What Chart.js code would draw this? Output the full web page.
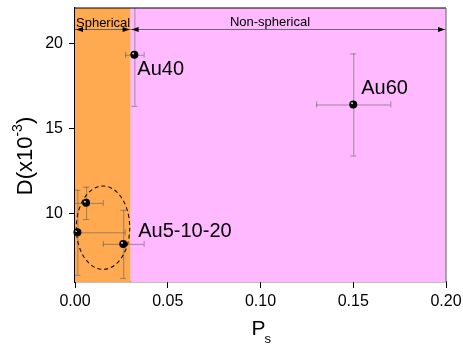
<!DOCTYPE html>
<html>
<head>
<meta charset="utf-8">
<script src="https://cdn.jsdelivr.net/npm/chart.js@4"></script>
<style>
  html, body { margin: 0; padding: 0; background: #fff; }
  #wrap { width: 463px; height: 345px; }
</style>
</head>
<body>
<div id="wrap"><canvas id="chart" width="463" height="345"></canvas></div>
<script>
// measured points: P_s vs D (x10^-3)
const psValues = [0.032, 0.15, 0.006, 0.0013, 0.026];
const dValues = [19.35, 16.43, 10.65, 8.92, 8.24];
const psErr = [0.005, 0.02, 0.009, 0.0255, 0.011];
const dErr = [3, 3, 0.95, 2.5, 2];

const sampleNames = ["Au40", "Au60", "Au5-10-20"];
const sampleAnchor = [0, 1, 4];

const xTicks = [0, 0.05, 0.10, 0.15, 0.20];
const yTicks = [10, 15, 20];

const regionEdges = [0, 0.03, 0.2];
const regionNames = ["Spherical", "Non-spherical"];
const arrowLevel = 20.88;

const clusterCenter = [0.0151, 9.19];
const clusterRadius = [0.0144, 2.45];

const FONT = "Arial, 'Liberation Sans', sans-serif";
const regionColors = ["#ffaa50", "#ffbaff"];
const labelOffsets = [[3, 15], [8, -16], [15, -12]];

const points = psValues.map((x, i) => ({ x: x, y: dValues[i] }));

const decorPlugin = {
  id: "decor",
  beforeDatasetsDraw(chart) {
    const ctx = chart.ctx;
    const area = chart.chartArea;
    const xs = chart.scales.x, ys = chart.scales.y;
    ctx.save();
    // shaded regions
    for (let i = 0; i < regionNames.length; i++) {
      const x0 = xs.getPixelForValue(regionEdges[i]);
      const x1 = xs.getPixelForValue(regionEdges[i + 1]);
      ctx.fillStyle = regionColors[i];
      ctx.fillRect(x0, area.top, x1 - x0, area.bottom - area.top);
    }
    // error bars, clipped to plot area
    ctx.beginPath();
    ctx.rect(area.left, area.top, area.right - area.left, area.bottom - area.top);
    ctx.clip();
    ctx.strokeStyle = "rgba(85,85,85,0.55)";
    ctx.lineWidth = 1;
    const cap = 3;
    points.forEach((p, i) => {
      const px = xs.getPixelForValue(p.x), py = ys.getPixelForValue(p.y);
      const xl = xs.getPixelForValue(p.x - psErr[i]), xr = xs.getPixelForValue(p.x + psErr[i]);
      const yt = ys.getPixelForValue(p.y + dErr[i]), yb = ys.getPixelForValue(p.y - dErr[i]);
      ctx.beginPath();
      ctx.moveTo(xl, py + 0.5); ctx.lineTo(xr, py + 0.5);
      ctx.moveTo(xl + 0.5, py - cap); ctx.lineTo(xl + 0.5, py + cap);
      ctx.moveTo(xr + 0.5, py - cap); ctx.lineTo(xr + 0.5, py + cap);
      ctx.moveTo(px + 0.5, yt); ctx.lineTo(px + 0.5, yb);
      ctx.moveTo(px - cap, yt + 0.5); ctx.lineTo(px + cap, yt + 0.5);
      ctx.moveTo(px - cap, yb + 0.5); ctx.lineTo(px + cap, yb + 0.5);
      ctx.stroke();
    });
    ctx.restore();
  },
  afterDatasetsDraw(chart) {
    const ctx = chart.ctx;
    const area = chart.chartArea;
    const xs = chart.scales.x, ys = chart.scales.y;
    ctx.save();

    // little shine on each sphere marker
    ctx.fillStyle = "rgba(255,255,255,0.85)";
    points.forEach(p => {
      ctx.beginPath();
      ctx.arc(xs.getPixelForValue(p.x) - 1.2, ys.getPixelForValue(p.y) - 1.2, 1, 0, Math.PI * 2);
      ctx.fill();
    });

    // dashed ellipse round the small particles
    const cx = xs.getPixelForValue(clusterCenter[0]);
    const cy = ys.getPixelForValue(clusterCenter[1]);
    const rx = xs.getPixelForValue(clusterCenter[0] + clusterRadius[0]) - cx;
    const ry = cy - ys.getPixelForValue(clusterCenter[1] + clusterRadius[1]);
    ctx.beginPath();
    ctx.setLineDash([4, 3]);
    ctx.strokeStyle = "#111";
    ctx.lineWidth = 1.1;
    ctx.ellipse(cx, cy, rx, ry, 0, 0, Math.PI * 2);
    ctx.stroke();
    ctx.setLineDash([]);

    // range arrows with their captions
    const ay = Math.round(ys.getPixelForValue(arrowLevel)) + 0.5;
    for (let i = 0; i < regionNames.length; i++) {
      const x0 = xs.getPixelForValue(regionEdges[i]);
      const x1 = xs.getPixelForValue(regionEdges[i + 1]);
      ctx.strokeStyle = "rgba(70,70,70,0.75)";
      ctx.lineWidth = 1;
      ctx.beginPath();
      ctx.moveTo(x0, ay); ctx.lineTo(x1, ay);
      ctx.stroke();
      ctx.fillStyle = "#000";
      ctx.beginPath();
      ctx.moveTo(x0 + 1, ay); ctx.lineTo(x0 + 8, ay - 2.5); ctx.lineTo(x0 + 8, ay + 2.5);
      ctx.closePath(); ctx.fill();
      ctx.beginPath();
      ctx.moveTo(x1 - 1, ay); ctx.lineTo(x1 - 8, ay - 2.5); ctx.lineTo(x1 - 8, ay + 2.5);
      ctx.closePath(); ctx.fill();
    }
    ctx.font = "13px " + FONT;
    ctx.fillStyle = "#000";
    ctx.textBaseline = "alphabetic";
    ctx.textAlign = "left";
    ctx.fillText(regionNames[0], xs.getPixelForValue(regionEdges[0]) + 1, ay - 3);
    ctx.textAlign = "center";
    ctx.fillText(regionNames[1], 270, ay - 4);

    // sample names
    ctx.font = "20px " + FONT;
    ctx.textAlign = "left";
    ctx.textBaseline = "middle";
    sampleNames.forEach((name, i) => {
      const p = points[sampleAnchor[i]];
      ctx.fillText(name, xs.getPixelForValue(p.x) + labelOffsets[i][0], ys.getPixelForValue(p.y) + labelOffsets[i][1]);
    });

    // frame: top and right edges
    ctx.lineWidth = 1.2;
    ctx.strokeStyle = "#000";
    ctx.beginPath();
    ctx.moveTo(area.left, area.top); ctx.lineTo(area.right, area.top);
    ctx.stroke();
    ctx.strokeStyle = "#777";
    ctx.beginPath();
    ctx.moveTo(area.right, area.top); ctx.lineTo(area.right, area.bottom);
    ctx.stroke();
    ctx.restore();
  },
  afterDraw(chart) {
    const ctx = chart.ctx;
    const area = chart.chartArea;
    ctx.save();
    ctx.fillStyle = "#000";
    // y title: D(x10^-3)
    ctx.translate(32, 156);
    ctx.rotate(-Math.PI / 2);
    ctx.textBaseline = "alphabetic";
    ctx.textAlign = "left";
    const big = "22px " + FONT, small = "14px " + FONT;
    ctx.font = big;
    const w1 = ctx.measureText("D(x10").width;
    const w3 = ctx.measureText(")").width;
    ctx.font = small;
    const w2 = ctx.measureText("-3").width;
    let x = -(w1 + w2 + w3) / 2;
    ctx.font = big;
    ctx.fillText("D(x10", x, 0);
    ctx.font = small;
    ctx.fillText("-3", x + w1, -10);
    ctx.font = big;
    ctx.fillText(")", x + w1 + w2, 0);
    ctx.restore();

    // x title: P_s
    ctx.save();
    ctx.fillStyle = "#000";
    ctx.font = "21px " + FONT;
    ctx.textAlign = "left";
    ctx.textBaseline = "alphabetic";
    const mid = (area.left + area.right) / 2;
    ctx.fillText("P", mid - 9, 335);
    ctx.font = "13px " + FONT;
    ctx.fillText("s", mid + 4, 343);
    ctx.restore();
  }
};

new Chart(document.getElementById("chart"), {
  type: "scatter",
  data: {
    datasets: [{
      data: points,
      pointRadius: 4,
      pointHoverRadius: 4,
      pointBackgroundColor: "#000",
      pointBorderColor: "#000",
      pointBorderWidth: 0,
      clip: false
    }]
  },
  options: {
    responsive: false,
    animation: false,
    events: [],
    layout: { padding: { top: 8, right: 17, left: 0, bottom: 0 } },
    plugins: { legend: { display: false }, tooltip: { enabled: false } },
    scales: {
      x: {
        type: "linear",
        min: 0,
        max: 0.2,
        afterFit: s => { s.height = 63; s.paddingLeft = 0; s.paddingRight = 0; },
        afterBuildTicks: s => { s.ticks = xTicks.map(v => ({ value: v })); },
        ticks: {
          color: "#000",
          font: { family: FONT, size: 16 },
          padding: 4,
          maxRotation: 0,
          callback: v => v.toFixed(2)
        },
        grid: { display: true, drawOnChartArea: false, drawTicks: true, tickLength: 6, color: "#000", lineWidth: 1 },
        border: { display: true, color: "#000", width: 1.2 }
      },
      y: {
        type: "linear",
        min: 6,
        max: 22.1,
        afterFit: s => { s.width = 75; s.paddingTop = 0; s.paddingBottom = 0; },
        afterBuildTicks: s => { s.ticks = yTicks.map(v => ({ value: v })); },
        ticks: {
          color: "#000",
          font: { family: FONT, size: 16 },
          padding: 6,
          callback: v => String(v)
        },
        grid: { display: true, drawOnChartArea: false, drawTicks: true, tickLength: 6, color: "#000", lineWidth: 1 },
        border: { display: true, color: "#000", width: 1.2 }
      }
    }
  },
  plugins: [decorPlugin]
});
</script>
</body>
</html>
